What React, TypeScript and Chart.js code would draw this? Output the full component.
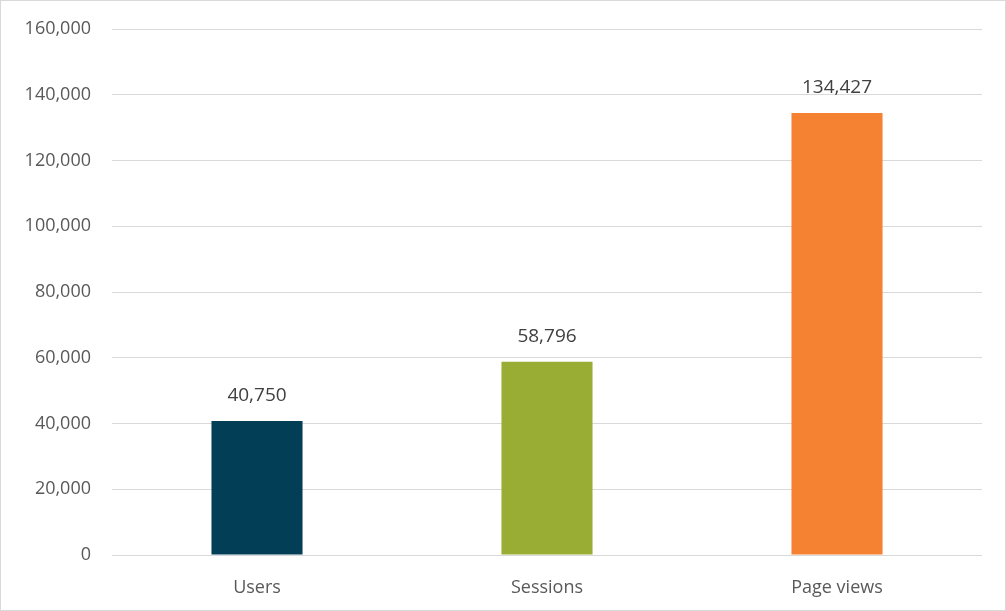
import React, { useEffect, useRef } from "react";
import { Chart, registerables } from "chart.js";

Chart.register(...registerables);

const categories = ["Users", "Sessions", "Page views"];
const values = [40750, 58796, 134427];
const barColors = ["#023f57", "#99ad34", "#f58233"];
const yTicks = [0, 20000, 40000, 60000, 80000, 100000, 120000, 140000, 160000];

const fmt = (v: number) => v.toLocaleString("en-US");
const FONT = '"Open Sans", sans-serif';

const labelPlugin = {
  id: "barLabels",
  afterDatasetsDraw(chart: any) {
    const { ctx } = chart;
    const meta = chart.getDatasetMeta(0);
    ctx.save();
    ctx.font = `19px ${FONT}`;
    ctx.fillStyle = "#404040";
    ctx.textAlign = "center";
    ctx.textBaseline = "middle";
    meta.data.forEach((bar: any, i: number) => {
      ctx.fillText(fmt(values[i]), bar.x, bar.y - 25);
    });
    ctx.restore();
  },
};

export default function App() {
  const ref = useRef<HTMLCanvasElement>(null);
  useEffect(() => {
    document.body.style.margin = "0";
    const chart = new Chart(ref.current!, {
      type: "bar",
      data: {
        labels: categories,
        datasets: [
          {
            data: values,
            backgroundColor: barColors,
            categoryPercentage: 1,
            barPercentage: 0.314,
          },
        ],
      },
      options: {
        animation: false,
        responsive: false,
        maintainAspectRatio: false,
        layout: { padding: { top: 28, left: 0, right: 23, bottom: 0 } },
        plugins: { legend: { display: false }, tooltip: { enabled: false } },
        scales: {
          x: {
            grid: { display: false },
            border: { display: false },
            ticks: {
              color: "#595959",
              font: { family: FONT, size: 18 },
              padding: 14,
            },
            afterFit: (s: any) => {
              s.height = 55;
              s.paddingLeft = 0;
              s.paddingRight = 0;
            },
          },
          y: {
            min: 0,
            max: 160000,
            afterBuildTicks: (s: any) => {
              s.ticks = yTicks.map((v) => ({ value: v }));
            },
            grid: { color: "#d9d9d9", drawTicks: false, lineWidth: 1 },
            border: { display: false },
            ticks: {
              color: "#595959",
              font: { family: FONT, size: 18 },
              padding: 21,
              callback: (v: any) => fmt(Number(v)),
            },
            afterFit: (s: any) => {
              s.width = 111;
              s.paddingTop = 0;
              s.paddingBottom = 0;
            },
          },
        },
      },
      plugins: [labelPlugin],
    });
    return () => chart.destroy();
  }, []);
  return (
    <div
      style={{
        width: 1006,
        height: 611,
        boxSizing: "border-box",
        border: "1px solid #d9d9d9",
        background: "#fff",
        overflow: "hidden",
      }}
    >
      <canvas ref={ref} width={1004} height={609} style={{ display: "block" }} />
    </div>
  );
}
